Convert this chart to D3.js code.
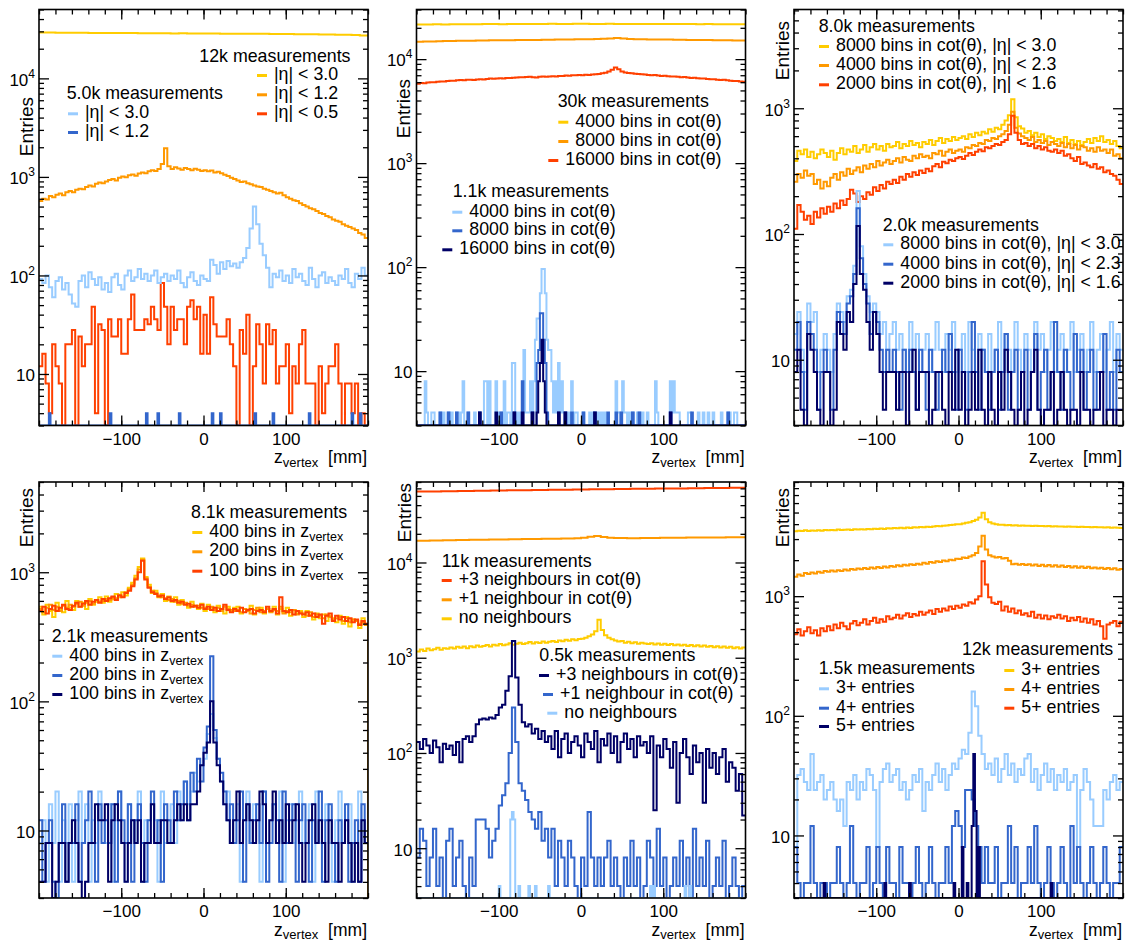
<!DOCTYPE html>
<html>
<head>
<meta charset="utf-8">
<script src="https://cdn.jsdelivr.net/npm/d3@7"></script>
<style>
  body { margin: 0; background: #fff; }
  text { font-family: "Liberation Sans", Arial, Helvetica, sans-serif; fill: #000; }
</style>
</head>
<body>
<script>
// ---- colours (ROOT-like palette) ----
const YEL = "#ffcc00", ORA = "#ff9900", RED = "#ff4000";
const LBL = "#99ccff", BLU = "#3366cc", NAV = "#000066";

// ---- data: entries per bin, z_vertex from -200 to 200 mm ----
// dense arrays: equal bins across [-200, 200]; sparse lists: [bin low edge in mm, entries] with 2 mm bins

// panel 1
const p1Yellow = [29200, 29150, 29100, 29120, 29000, 28980, 28950, 28900, 28920, 28850, 28800, 28820, 28760, 28700, 28720, 28650, 28600, 28640, 28580, 28550,
  28500, 28520, 28450, 28400, 28420, 28350, 28300, 28320, 28250, 28200, 28150, 28100, 28050, 28000, 27950, 27850, 27750, 27650, 27500, 27300];
const p1Orange = [570, 600, 590, 640, 620, 660, 680, 650, 700, 720,
  700, 740, 760, 750, 790, 820, 800, 850, 880, 860,
  900, 930, 950, 920, 980, 1010, 990, 1040, 1060, 1030,
  1080, 1110, 1090, 1140, 1170, 1150, 1200, 1350, 1950, 1280,
  1200, 1250, 1220, 1180, 1230, 1200, 1170, 1210, 1180, 1150,
  1170, 1140, 1160, 1110, 1130, 1090, 1050, 1020, 980, 950,
  920, 890, 900, 860, 840, 820, 800, 790, 760, 740,
  720, 700, 680, 690, 650, 620, 600, 580, 570, 540,
  520, 500, 480, 470, 450, 430, 420, 400, 390, 370,
  360, 350, 330, 320, 310, 300, 290, 270, 260, 240];
const p1Red = [12, 16, 8, 4, 20, 12, 8, 0, 20, 20,
  28, 0, 24, 12, 20, 20, 48, 4, 32, 28,
  0, 36, 24, 24, 36, 16, 16, 36, 64, 28,
  28, 28, 36, 32, 48, 36, 28, 84, 48, 20,
  48, 28, 36, 36, 20, 48, 56, 36, 48, 16,
  40, 16, 60, 32, 24, 24, 24, 36, 20, 12,
  0, 28, 16, 40, 0, 12, 32, 20, 8, 32,
  20, 28, 8, 12, 12, 20, 4, 12, 8, 20,
  28, 8, 8, 8, 0, 12, 4, 8, 12, 12,
  20, 8, 0, 8, 8, 4, 8, 0, 4, 0];
const p1Light = [92, 84, 100, 76, 60, 88, 96, 72, 84, 64,
  52, 48, 88, 100, 76, 108, 92, 80, 96, 72,
  84, 68, 96, 104, 80, 72, 100, 112, 88, 96,
  116, 92, 104, 88, 100, 112, 84, 96, 104, 88,
  100, 92, 112, 84, 76, 96, 108, 88, 80, 100,
  92, 88, 144, 128, 104, 136, 116, 140, 124, 132,
  120, 136, 150, 190, 300, 500, 330, 210, 160, 120,
  76, 104, 96, 112, 88, 100, 84, 116, 96, 104,
  88, 80, 120, 92, 76, 100, 108, 84, 96, 88,
  80, 100, 92, 116, 84, 76, 104, 92, 120, 100];
const p1Blue = [[-188, 4], [-114, 4], [-70, 4], [-56, 4], [-30, 4], [10, 4], [20, 4], [62, 4], [84, 4], [128, 4], [180, 4], [190, 4]];
const p1Names = ["|η| < 3.0", "|η| < 1.2", "|η| < 0.5"];

// panel 2
const p2Yellow = [21500, 21550, 21600, 21580, 21620, 21650, 21700, 21680, 21720, 21750, 21700, 21760, 21800, 21780, 21820, 21800, 21850, 21820, 21800, 21850,
  21830, 21800, 21820, 21850, 21800, 21780, 21820, 21800, 21760, 21780, 21800, 21750, 21720, 21760, 21700, 21720, 21680, 21700, 21650, 21620];
const p2Orange = [14700, 14750, 14800, 14850, 14900, 14950, 15000, 15000, 15050, 15100, 15100, 15150, 15150, 15200, 15200, 15250, 15250, 15300, 15300, 15350,
  15350, 15400, 15400, 15450, 15500, 15500, 15550, 15600, 15700, 15800, 16000, 15800, 15650, 15550, 15500, 15450, 15450, 15400, 15400, 15350,
  15350, 15300, 15300, 15250, 15250, 15200, 15200, 15150, 15100, 15100];
const p2Red = [5800, 5900, 5850, 5950, 6000, 5980, 6050, 6100, 6080, 6150,
  6200, 6180, 6250, 6300, 6280, 6320, 6350, 6300, 6380, 6400,
  6380, 6450, 6500, 6480, 6520, 6550, 6500, 6580, 6600, 6620,
  6650, 6700, 6680, 6720, 6750, 6700, 6650, 6750, 6800, 6780,
  6820, 6850, 6800, 6880, 6900, 6950, 6920, 6980, 7000, 7050,
  7000, 7080, 7050, 7100, 7150, 7200, 7300, 7400, 7600, 7900,
  8300, 8000, 7600, 7450, 7350, 7300, 7250, 7200, 7150, 7100,
  7050, 7000, 7020, 6950, 6900, 6920, 6850, 6800, 6820, 6750,
  6700, 6720, 6650, 6600, 6620, 6550, 6500, 6520, 6450, 6400,
  6420, 6350, 6300, 6320, 6250, 6200, 6150, 6150, 6100, 6050];
const p2Light = [[-190, 8], [-188, 4], [-182, 4], [-180, 4], [-172, 4], [-168, 4], [-162, 4], [-158, 4], [-152, 4], [-150, 4], [-146, 4], [-144, 8],
  [-138, 4], [-130, 4], [-124, 4], [-118, 8], [-116, 8], [-112, 8], [-104, 8], [-100, 4], [-98, 4], [-94, 8], [-90, 4], [-88, 4], [-84, 12], [-82, 12],
  [-78, 4], [-74, 4], [-72, 4], [-70, 16], [-68, 4], [-66, 4], [-64, 4], [-62, 8], [-60, 4], [-58, 8], [-56, 20], [-54, 32], [-52, 32], [-50, 56],
  [-48, 96], [-46, 96], [-44, 56], [-42, 20], [-40, 16], [-38, 16], [-36, 8], [-34, 4], [-32, 8], [-30, 4], [-28, 12], [-26, 4], [-24, 8], [-22, 4],
  [-20, 4], [-16, 4], [-12, 8], [-8, 4], [-6, 4], [2, 4], [10, 4], [14, 4], [20, 4], [24, 4], [28, 4], [42, 8], [44, 4], [46, 4], [50, 8], [52, 4],
  [54, 4], [58, 4], [62, 4], [68, 4], [70, 4], [74, 4], [80, 4], [90, 8], [92, 4], [108, 8], [110, 4], [112, 8], [114, 4], [116, 4], [118, 4],
  [130, 4], [132, 4], [142, 4], [148, 4], [154, 4], [160, 4], [170, 4], [178, 4], [180, 4], [186, 4], [188, 4]];
const p2Blue = [[-172, 4], [-162, 4], [-152, 4], [-138, 4], [-124, 4], [-98, 4], [-82, 4], [-72, 8], [-60, 4], [-54, 12], [-52, 16], [-50, 36],
  [-48, 36], [-46, 20], [-44, 12], [-42, 4], [-28, 4], [-20, 4], [-12, 4], [2, 4], [16, 4], [32, 4], [42, 4], [48, 4], [62, 4], [70, 4], [108, 4],
  [134, 4], [178, 4]];
const p2Navy = [[-124, 4], [-104, 4], [-82, 4], [-72, 4], [-60, 4], [-54, 4], [-52, 8], [-50, 12], [-48, 20], [-46, 8], [-44, 4], [-28, 4], [-20, 4],
  [16, 4], [108, 4]];
const p2Names = ["4000 bins in cot(θ)", "8000 bins in cot(θ)", "16000 bins in cot(θ)"];

// panel 3
const p3Yellow = [380, 460, 430, 470, 410, 450, 400, 430, 470, 440,
  410, 460, 390, 440, 480, 430, 470, 450, 500, 440,
  470, 510, 450, 490, 520, 470, 500, 460, 520, 490,
  500, 540, 480, 520, 500, 550, 510, 530, 490, 540,
  520, 560, 510, 550, 580, 530, 570, 550, 590, 560,
  580, 600, 570, 620, 590, 640, 610, 650, 630, 680,
  650, 700, 680, 740, 800, 880, 1180, 850, 720, 690,
  640, 660, 610, 640, 590, 620, 570, 600, 580, 550,
  570, 540, 590, 530, 560, 520, 550, 510, 540, 570,
  530, 580, 550, 600, 540, 560, 520, 550, 500, 480];
const p3Orange = [260, 300, 280, 320, 290, 300, 250, 270, 230, 260,
  240, 280, 300, 270, 310, 290, 330, 300, 320, 340,
  310, 350, 330, 360, 340, 380, 350, 370, 390, 360,
  380, 400, 370, 410, 390, 380, 420, 400, 430, 410,
  420, 400, 440, 430, 460, 420, 450, 470, 440, 460,
  470, 450, 490, 480, 510, 500, 530, 520, 560, 550,
  580, 570, 600, 620, 660, 740, 940, 700, 630, 600,
  580, 560, 590, 540, 560, 530, 550, 510, 540, 520,
  500, 530, 490, 520, 480, 510, 470, 500, 490, 460,
  480, 450, 490, 460, 470, 440, 470, 420, 430, 400];
const p3Red = [110, 170, 150, 130, 140, 120, 150, 135, 160, 145,
  165, 150, 175, 160, 185, 170, 190, 225, 210, 180,
  200, 190, 215, 205, 235, 220, 245, 230, 260, 250,
  270, 255, 285, 270, 300, 285, 310, 295, 320, 305,
  330, 315, 345, 360, 340, 375, 365, 390, 380, 400,
  410, 395, 420, 440, 425, 450, 470, 455, 490, 480,
  500, 520, 510, 540, 560, 620, 870, 640, 560, 520,
  530, 500, 520, 480, 500, 470, 490, 460, 450, 470,
  440, 460, 420, 430, 400, 380, 410, 360, 370, 350,
  340, 360, 330, 340, 310, 320, 300, 290, 270, 250];
const p3Light = [16, 24, 12, 8, 28, 20, 24, 8, 12, 16,
  12, 8, 16, 28, 24, 20, 32, 36, 56, 220,
  80, 48, 32, 24, 28, 24, 16, 20, 12, 16,
  20, 12, 16, 12, 8, 20, 12, 16, 8, 12,
  16, 8, 12, 20, 12, 8, 16, 12, 20, 8,
  12, 16, 8, 20, 12, 8, 16, 12, 8, 16,
  8, 12, 20, 8, 16, 12, 8, 20, 12, 8,
  16, 12, 8, 20, 12, 16, 8, 12, 20, 8,
  12, 16, 8, 12, 20, 8, 12, 16, 8, 12,
  20, 8, 12, 16, 8, 12, 20, 8, 16, 12];
const p3Blue = [12, 20, 8, 4, 20, 16, 12, 4, 8, 12,
  8, 4, 12, 24, 20, 16, 28, 32, 48, 160,
  64, 40, 28, 16, 24, 20, 12, 8, 12, 8,
  12, 8, 4, 12, 8, 12, 8, 4, 12, 8,
  4, 12, 8, 4, 8, 12, 8, 16, 8, 4,
  12, 8, 4, 8, 20, 8, 4, 12, 8, 4,
  8, 12, 4, 8, 16, 4, 8, 12, 4, 8,
  12, 4, 8, 16, 4, 8, 12, 4, 8, 20,
  8, 4, 12, 8, 4, 16, 8, 12, 4, 8,
  12, 4, 8, 8, 16, 4, 8, 4, 12, 8];
const p3Navy = [8, 12, 4, 0, 16, 12, 8, 4, 0, 8,
  8, 0, 4, 20, 16, 12, 24, 20, 40, 116,
  48, 36, 20, 12, 24, 16, 8, 4, 8, 8,
  8, 4, 8, 8, 0, 8, 12, 4, 8, 8,
  8, 0, 4, 8, 8, 4, 0, 8, 4, 12,
  4, 8, 0, 4, 8, 4, 12, 4, 0, 8,
  4, 0, 8, 4, 12, 8, 4, 0, 4, 8,
  0, 4, 8, 12, 4, 0, 4, 4, 8, 0,
  4, 8, 4, 0, 4, 4, 0, 8, 4, 4,
  0, 4, 4, 8, 0, 4, 4, 0, 4, 4];
const p3Names = ["8000 bins in cot(θ), |η| < 3.0", "4000 bins in cot(θ), |η| < 2.3", "2000 bins in cot(θ), |η| < 1.6"];

// panel 4
const p4Yellow = [540, 470, 560, 500, 450, 580, 520, 490, 600, 530,
  510, 600, 540, 580, 520, 620, 560, 590, 640, 580,
  650, 590, 620, 680, 640, 700, 660, 760, 830, 940,
  1100, 1280, 920, 800, 690, 720, 640, 680, 600, 650,
  590, 640, 560, 610, 570, 530, 590, 550, 520, 570,
  500, 560, 530, 490, 550, 520, 480, 540, 500, 530,
  540, 480, 520, 500, 550, 470, 510, 530, 480, 520,
  500, 540, 470, 520, 490, 530, 460, 510, 480, 500,
  450, 500, 470, 430, 480, 440, 470, 420, 460, 440,
  410, 460, 400, 450, 380, 430, 420, 370, 440, 400];
const p4Orange = [520, 490, 530, 560, 510, 540, 500, 550, 530, 560,
  540, 570, 590, 550, 580, 600, 570, 610, 590, 600,
  620, 610, 640, 630, 670, 650, 700, 740, 800, 900,
  1050, 1250, 900, 770, 720, 690, 660, 640, 630, 610,
  620, 590, 600, 570, 580, 550, 560, 540, 550, 530,
  530, 520, 540, 510, 530, 500, 540, 520, 510, 500,
  510, 490, 520, 500, 480, 510, 530, 490, 500, 520,
  490, 510, 500, 540, 480, 500, 490, 510, 470, 490,
  480, 460, 490, 450, 470, 460, 440, 470, 450, 430,
  440, 450, 420, 440, 410, 430, 420, 400, 410, 390];
const p4Red = [500, 540, 480, 520, 550, 500, 530, 560, 520, 510,
  550, 580, 540, 570, 600, 560, 590, 610, 580, 620,
  600, 630, 650, 610, 660, 640, 690, 720, 780, 880,
  1000, 1230, 880, 760, 700, 680, 650, 660, 620, 640,
  600, 610, 580, 590, 560, 570, 540, 550, 530, 560,
  520, 540, 510, 530, 500, 520, 560, 510, 490, 520,
  500, 530, 490, 510, 520, 480, 500, 510, 490, 540,
  500, 520, 480, 640, 500, 490, 510, 470, 500, 480,
  470, 490, 460, 480, 450, 470, 400, 460, 480, 420,
  460, 430, 450, 420, 440, 410, 430, 390, 420, 400];
const p4Light = [8, 12, 4, 16, 8, 20, 4, 12, 8, 16,
  4, 12, 20, 8, 16, 4, 12, 8, 20, 12,
  8, 16, 4, 12, 20, 8, 4, 16, 12, 8,
  20, 4, 12, 8, 16, 12, 4, 20, 8, 12,
  16, 8, 20, 12, 24, 16, 20, 28, 24, 32,
  36, 56, 80, 52, 36, 24, 16, 20, 8, 12,
  16, 4, 12, 20, 8, 16, 12, 4, 20, 8,
  12, 16, 8, 20, 4, 12, 16, 8, 12, 20,
  8, 12, 16, 4, 20, 8, 12, 16, 8, 4,
  12, 20, 8, 12, 16, 4, 8, 20, 12, 8];
const p4Blue = [12, 4, 8, 12, 4, 0, 8, 16, 4, 8,
  8, 16, 4, 8, 12, 20, 8, 4, 16, 8,
  12, 8, 16, 4, 20, 12, 8, 16, 4, 12,
  16, 8, 4, 12, 20, 8, 12, 4, 16, 12,
  8, 20, 12, 16, 24, 12, 28, 20, 36, 24,
  44, 64, 224, 60, 36, 28, 20, 12, 16, 8,
  12, 20, 4, 16, 8, 12, 16, 8, 20, 4,
  8, 16, 12, 4, 20, 8, 12, 16, 4, 12,
  16, 8, 4, 12, 8, 20, 4, 12, 16, 8,
  4, 12, 8, 16, 4, 8, 12, 4, 16, 8];
const p4Navy = [4, 4, 8, 8, 0, 4, 8, 8, 4, 8,
  12, 8, 4, 0, 4, 8, 8, 16, 12, 12,
  16, 4, 12, 16, 12, 8, 4, 8, 12, 8,
  12, 4, 8, 8, 16, 8, 8, 12, 12, 8,
  8, 12, 16, 12, 16, 12, 16, 16, 20, 32,
  40, 48, 100, 48, 32, 24, 16, 12, 8, 12,
  20, 8, 12, 16, 12, 8, 12, 20, 16, 8,
  12, 20, 8, 12, 8, 16, 8, 12, 16, 8,
  4, 8, 12, 16, 8, 12, 8, 4, 12, 8,
  8, 4, 8, 12, 8, 4, 8, 4, 12, 8];
const p4Names = ["400 bins in z", "200 bins in z", "100 bins in z"];

// panel 5
const p5Red = [55500, 55700, 55800, 56000, 56100, 56300, 56400, 56600, 56700, 56900, 57000, 57200, 57300, 57500, 57600, 57800, 57900, 58100, 58200, 58400,
  58500, 58600, 58800, 58900, 59000, 59200, 59300, 59400, 59600, 59700, 59800, 59900, 60000, 60200, 60300, 60400, 60500, 60600, 60800, 60900];
const p5Orange = [16900, 16950, 17000, 17050, 17100, 17150, 17200, 17250, 17300, 17300, 17350, 17400, 17450, 17450, 17500, 17550, 17600, 17600, 17650, 17700,
  17750, 17800, 17850, 17900, 18000, 18200, 18600, 19000, 18500, 18200, 18100, 18050, 18000, 18000, 18050, 18100, 18100, 18150, 18150, 18200,
  18200, 18250, 18250, 18300, 18300, 18350, 18350, 18400, 18400, 18400];
const p5Yellow = [1160, 1220, 1180, 1250, 1200, 1230, 1270, 1210, 1260, 1240,
  1280, 1250, 1300, 1270, 1310, 1260, 1320, 1290, 1340, 1300,
  1330, 1360, 1310, 1370, 1340, 1390, 1350, 1380, 1420, 1370,
  1400, 1440, 1390, 1420, 1460, 1410, 1450, 1430, 1480, 1440,
  1470, 1500, 1460, 1520, 1490, 1540, 1510, 1560, 1530, 1570,
  1580, 1620, 1680, 1750, 1900, 2500, 1950, 1720, 1620, 1560,
  1520, 1480, 1500, 1440, 1470, 1420, 1450, 1400, 1440, 1410,
  1390, 1420, 1380, 1410, 1370, 1400, 1360, 1390, 1350, 1380,
  1340, 1370, 1330, 1360, 1320, 1350, 1310, 1340, 1300, 1330,
  1290, 1320, 1280, 1310, 1270, 1300, 1260, 1290, 1250, 1280];
const p5Navy = [130, 110, 140, 120, 100, 135, 115, 80, 125, 110,
  120, 95, 130, 80, 140, 150, 130, 150, 200, 225,
  230, 225, 235, 230, 250, 300, 320, 450, 640, 1500,
  620, 320, 210, 190, 200, 160, 180, 140, 170, 130,
  150, 110, 170, 90, 140, 160, 100, 130, 150, 120,
  90, 160, 130, 110, 170, 80, 140, 120, 160, 100,
  150, 80, 130, 160, 110, 140, 90, 150, 120, 130,
  100, 150, 25, 120, 90, 140, 110, 70, 130, 30,
  100, 140, 90, 60, 120, 80, 100, 30, 110, 70,
  100, 60, 90, 110, 50, 80, 70, 40, 60, 22];
const p5Blue = [8, 16, 12, 4, 8, 16, 4, 8, 0, 12,
  16, 4, 8, 12, 4, 0, 8, 4, 20, 20,
  20, 16, 8, 12, 16, 28, 36, 48, 100, 300,
  130, 48, 40, 32, 24, 20, 16, 24, 12, 16,
  8, 16, 4, 12, 8, 4, 12, 8, 4, 0,
  8, 4, 24, 8, 4, 8, 4, 8, 12, 4,
  8, 4, 0, 8, 4, 12, 4, 8, 0, 4,
  12, 8, 4, 16, 4, 8, 0, 4, 8, 4,
  12, 4, 8, 0, 16, 4, 8, 4, 12, 0,
  4, 8, 4, 12, 0, 4, 8, 4, 0, 4];
const p5Light = [[-100, 4], [-86, 20], [-84, 24], [-82, 20], [-76, 4], [-64, 4], [-56, 4], [-40, 4], [84, 4], [88, 4], [126, 4], [132, 4]];
const p5Names = ["+3 neighbours in cot(θ)", "+1 neighbour in cot(θ)", "no neighbours"];

// panel 6
const p6Yellow = [3480, 3520, 3500, 3550, 3510, 3540, 3530, 3560, 3520, 3570,
  3550, 3580, 3560, 3600, 3570, 3590, 3610, 3580, 3620, 3600,
  3630, 3610, 3650, 3620, 3660, 3640, 3680, 3650, 3700, 3670,
  3710, 3690, 3730, 3700, 3750, 3720, 3770, 3750, 3790, 3770,
  3810, 3790, 3830, 3860, 3840, 3880, 3900, 3930, 3960, 3990,
  4000, 4050, 4100, 4150, 4250, 4350, 4550, 4990, 4400, 4150,
  4050, 4000, 3960, 3950, 3920, 3930, 3900, 3910, 3880, 3890,
  3870, 3880, 3860, 3870, 3850, 3860, 3840, 3850, 3830, 3840,
  3820, 3830, 3810, 3820, 3800, 3810, 3790, 3800, 3780, 3790,
  3770, 3780, 3760, 3770, 3750, 3760, 3740, 3750, 3730, 3720];
const p6Orange = [1450, 1520, 1480, 1560, 1530, 1580, 1550, 1600, 1570, 1620,
  1600, 1640, 1610, 1650, 1620, 1670, 1640, 1690, 1660, 1700,
  1680, 1720, 1690, 1740, 1700, 1750, 1720, 1770, 1740, 1790,
  1760, 1810, 1780, 1830, 1800, 1850, 1820, 1870, 1840, 1900,
  1870, 1930, 1900, 1960, 1930, 1990, 1960, 2020, 2000, 2050,
  2040, 2100, 2080, 2150, 2200, 2300, 2600, 3200, 2450, 2200,
  2150, 2100, 2120, 2060, 2080, 1980, 1850, 1870, 1830, 1860,
  1820, 1850, 1800, 1840, 1790, 1830, 1780, 1820, 1770, 1810,
  1760, 1800, 1750, 1790, 1740, 1780, 1730, 1770, 1720, 1760,
  1710, 1740, 1700, 1730, 1690, 1720, 1680, 1710, 1660, 1690];
const p6Red = [480, 530, 470, 510, 550, 490, 520, 470, 540, 510,
  560, 520, 580, 540, 600, 560, 530, 590, 620, 570,
  600, 640, 580, 620, 660, 600, 640, 610, 680, 640,
  660, 700, 650, 690, 720, 670, 710, 690, 740, 700,
  730, 760, 710, 780, 740, 790, 760, 820, 780, 830,
  800, 850, 830, 890, 870, 940, 1000, 1960, 1250, 980,
  880, 860, 900, 760, 820, 740, 790, 720, 760, 700,
  720, 680, 740, 660, 700, 650, 690, 640, 680, 660,
  700, 650, 680, 620, 660, 630, 670, 610, 650, 600,
  640, 580, 620, 560, 440, 580, 600, 620, 560, 610];
const p6Light = [8, 32, 36, 28, 24, 48, 24, 28, 32, 20,
  24, 28, 20, 16, 20, 12, 28, 24, 32, 20,
  28, 24, 36, 32, 24, 8, 28, 36, 40, 28,
  32, 36, 24, 28, 20, 24, 32, 28, 36, 16,
  28, 24, 32, 40, 28, 36, 24, 32, 40, 36,
  44, 52, 48, 72, 160, 120, 68, 48, 36, 40,
  32, 44, 28, 36, 48, 32, 40, 28, 36, 32,
  44, 48, 28, 36, 24, 32, 40, 28, 36, 24,
  32, 28, 36, 24, 28, 32, 8, 24, 36, 28,
  20, 12, 12, 12, 24, 20, 28, 32, 24, 28];
const p6Blue = [8, 4, 0, 4, 4, 12, 4, 0, 4, 4,
  0, 4, 4, 8, 4, 0, 4, 12, 4, 0,
  4, 4, 8, 0, 4, 8, 4, 0, 8, 4,
  4, 0, 8, 4, 4, 0, 4, 8, 4, 0,
  4, 8, 4, 0, 4, 4, 8, 4, 12, 16,
  12, 8, 24, 24, 20, 12, 8, 4, 8, 4,
  4, 8, 0, 4, 4, 12, 4, 8, 0, 4,
  4, 8, 4, 12, 4, 0, 4, 8, 4, 0,
  4, 8, 4, 0, 12, 4, 8, 4, 0, 4,
  8, 4, 0, 4, 8, 4, 0, 4, 4, 8];
const p6Navy = [[-164, 4], [-90, 4], [-60, 4], [-6, 4], [4, 8], [10, 4], [16, 12], [18, 48], [20, 16], [24, 8], [112, 4]];
const p6Names = ["3+ entries", "4+ entries", "5+ entries"];

// ---- helpers ----
function fromSparse(pairs) {
  const a = new Array(200).fill(0);
  pairs.forEach(([z, v]) => { a[Math.round((z + 200) / 2)] = v; });
  return a;
}
function minorTicks(max) {
  const t = [];
  for (let e = 0; Math.pow(10, e) <= max; e++)
    for (let k = 2; k <= 9; k++) {
      const v = k * Math.pow(10, e);
      if (v >= 3 && v <= max) t.push(v);
    }
  return t;
}

// ---- layout of the six pads ----
const W = 329, H = 416;
const panels = [
  { x0: 39, y0: 9.5, ymax: 50000, entries: [33.3, 97],
    series: [{ v: p1Yellow, c: YEL }, { v: p1Orange, c: ORA }, { v: p1Red, c: RED }, { v: p1Light, c: LBL }, { v: fromSparse(p1Blue), c: BLU }],
    legend: [
      { t: "12k measurements", x: 199.3, y: 61.7 },
      { t: p1Names[0], x: 274, y: 80, c: YEL }, { t: p1Names[1], x: 274, y: 99.3, c: ORA }, { t: p1Names[2], x: 274, y: 118.3, c: RED },
      { t: "5.0k measurements", x: 66.7, y: 98.7 },
      { t: p1Names[0], x: 85, y: 118.3, c: LBL }, { t: p1Names[1], x: 85, y: 137, c: BLU }] },
  { x0: 416.5, y0: 9.5, ymax: 30000, entries: [410.3, 79],
    series: [{ v: p2Yellow, c: YEL }, { v: p2Orange, c: ORA }, { v: p2Red, c: RED },
      { v: fromSparse(p2Light), c: LBL }, { v: fromSparse(p2Blue), c: BLU }, { v: fromSparse(p2Navy), c: NAV }],
    legend: [
      { t: "30k measurements", x: 557.7, y: 107.3 },
      { t: p2Names[0], x: 575.3, y: 126.7, c: YEL }, { t: p2Names[1], x: 575.3, y: 146, c: ORA }, { t: p2Names[2], x: 565.3, y: 165, c: RED },
      { t: "1.1k measurements", x: 452.7, y: 197.3 },
      { t: p2Names[0], x: 469.3, y: 216.7, c: LBL }, { t: p2Names[1], x: 469.3, y: 235.3, c: BLU }, { t: p2Names[2], x: 459.3, y: 254.3, c: NAV }] },
  { x0: 794, y0: 9.5, ymax: 6100, entries: [788.7, 21],
    series: [{ v: p3Yellow, c: YEL }, { v: p3Orange, c: ORA }, { v: p3Red, c: RED }, { v: p3Light, c: LBL }, { v: p3Blue, c: BLU }, { v: p3Navy, c: NAV }],
    legend: [
      { t: "8.0k measurements", x: 818.7, y: 31.7 },
      { t: p3Names[0], x: 836, y: 51, c: YEL }, { t: p3Names[1], x: 836, y: 70, c: ORA }, { t: p3Names[2], x: 836, y: 89.3, c: RED },
      { t: "2.0k measurements", x: 882.7, y: 230.7 },
      { t: p3Names[0], x: 900.3, y: 249.3, c: LBL }, { t: p3Names[1], x: 900.3, y: 268.7, c: BLU }, { t: p3Names[2], x: 900.3, y: 287.7, c: NAV }] },
  { x0: 39, y0: 482, ymax: 5000, entries: [33.3, 488],
    series: [{ v: p4Yellow, c: YEL }, { v: p4Orange, c: ORA, close: true }, { v: p4Red, c: RED }, { v: p4Light, c: LBL }, { v: p4Blue, c: BLU }, { v: p4Navy, c: NAV }],
    legend: [
      { t: "8.1k measurements", x: 191, y: 518.3 },
      { t: p4Names[0], sub: "vertex", x: 209.3, y: 537, c: YEL }, { t: p4Names[1], sub: "vertex", x: 209.3, y: 556.3, c: ORA },
      { t: p4Names[2], sub: "vertex", x: 209.3, y: 575.7, c: RED },
      { t: "2.1k measurements", x: 51.7, y: 641.7 },
      { t: p4Names[0], sub: "vertex", x: 69.3, y: 660.7, c: LBL }, { t: p4Names[1], sub: "vertex", x: 69.3, y: 680, c: BLU },
      { t: p4Names[2], sub: "vertex", x: 69.3, y: 699, c: NAV }] },
  { x0: 416.5, y0: 482, ymax: 70000, entries: [411, 483],
    series: [{ v: p5Red, c: RED }, { v: p5Orange, c: ORA }, { v: p5Yellow, c: YEL }, { v: p5Navy, c: NAV }, { v: p5Blue, c: BLU }, { v: fromSparse(p5Light), c: LBL }],
    legend: [
      { t: "11k measurements", x: 441.7, y: 566.7 },
      { t: p5Names[0], x: 458.7, y: 585, c: RED }, { t: p5Names[1], x: 458.7, y: 604.3, c: ORA }, { t: p5Names[2], x: 458.7, y: 623.3, c: YEL },
      { t: "0.5k measurements", x: 539.3, y: 660.7 },
      { t: p5Names[0], x: 556, y: 680, c: NAV }, { t: p5Names[1], x: 560, y: 699, c: BLU }, { t: p5Names[2], x: 564.3, y: 717.7, c: LBL }] },
  { x0: 794, y0: 482, ymax: 9000, entries: [789.3, 488],
    series: [{ v: p6Yellow, c: YEL }, { v: p6Orange, c: ORA }, { v: p6Red, c: RED }, { v: p6Light, c: LBL }, { v: p6Blue, c: BLU }, { v: fromSparse(p6Navy), c: NAV }],
    legend: [
      { t: "12k measurements", x: 962, y: 655 },
      { t: p6Names[0], x: 1021.3, y: 675, c: YEL }, { t: p6Names[1], x: 1021.3, y: 694, c: ORA }, { t: p6Names[2], x: 1021.3, y: 712.7, c: RED },
      { t: "1.5k measurements", x: 818.7, y: 674 },
      { t: p6Names[0], x: 836, y: 693.3, c: LBL }, { t: p6Names[1], x: 836, y: 712.7, c: BLU }, { t: p6Names[2], x: 836, y: 731, c: NAV }] }
];

const svg = d3.select("body").append("svg")
  .attr("width", 1126)
  .attr("height", 941);

const FONT = '"Liberation Sans", Arial, Helvetica, sans-serif';
const x = d3.scaleLinear().domain([-200, 200]).range([0, W]);

panels.forEach((p, pi) => {
  const y = d3.scaleLog().domain([3, p.ymax]).range([H, 0]);
  const g = svg.append("g").attr("transform", `translate(${p.x0},${p.y0})`);

  g.append("clipPath").attr("id", "clip" + pi)
    .append("rect").attr("width", W).attr("height", H);

  // histograms as step lines
  const line = d3.line()
    .x(d => x(d[0]))
    .y(d => y(Math.max(d[1], 3)))
    .curve(d3.curveStepAfter);

  p.series.forEach(s => {
    const bw = 400 / s.v.length;
    const pts = s.v.map((v, i) => [-200 + i * bw, v]);
    pts.push([200, s.v[s.v.length - 1]]);
    if (s.close) pts.push([200, 0]);
    g.append("path")
      .attr("clip-path", `url(#clip${pi})`)
      .attr("d", line(pts))
      .attr("fill", "none")
      .attr("stroke", s.c)
      .attr("stroke-width", 2)
      .attr("stroke-linejoin", "miter");
  });

  // ticks on all four sides, pointing inward
  const minorX = d3.range(-200, 201, 20);
  const majorX = [-100, 0, 100];
  const majorY = [10, 100, 1000, 10000].filter(v => v <= p.ymax);
  const minY = minorTicks(p.ymax);

  const axes = [
    { a: d3.axisBottom(x).tickValues(minorX).tickSize(-5).tickFormat(""), t: `translate(0,${H})` },
    { a: d3.axisBottom(x).tickValues(majorX).tickSize(-10).tickPadding(7), t: `translate(0,${H})`, lab: true },
    { a: d3.axisTop(x).tickValues(minorX).tickSize(-5).tickFormat(""), t: "" },
    { a: d3.axisTop(x).tickValues(majorX).tickSize(-10).tickFormat(""), t: "" },
    { a: d3.axisLeft(y).tickValues(minY).tickSize(-5).tickFormat(""), t: "" },
    { a: d3.axisLeft(y).tickValues(majorY).tickSize(-10).tickPadding(4).tickFormat(""), t: "", ylab: true },
    { a: d3.axisRight(y).tickValues(minY).tickSize(-5).tickFormat(""), t: `translate(${W},0)` },
    { a: d3.axisRight(y).tickValues(majorY).tickSize(-10).tickFormat(""), t: `translate(${W},0)` }
  ];
  axes.forEach(ax => {
    const ag = g.append("g").attr("transform", ax.t).call(ax.a)
      .attr("font-family", FONT).attr("font-size", 17);
    ag.select(".domain").remove();
    ag.selectAll(".tick line").attr("stroke", "#000").attr("stroke-width", 1.3);
    ag.selectAll(".tick text").attr("fill", "#000");
    if (ax.ylab) {
      ag.selectAll(".tick text").attr("dy", "0.4em").each(function(d) {
        const t = d3.select(this);
        const e = Math.round(Math.log10(d));
        t.append("tspan").text("10");
        if (e > 1) t.append("tspan").attr("dy", -8).attr("font-size", 12).text(e);
      });
    }
  });

  // frame
  g.append("rect")
    .attr("width", W).attr("height", H)
    .attr("fill", "none").attr("stroke", "#000").attr("stroke-width", 1.6);

  // axis titles
  svg.append("text")
    .attr("transform", `translate(${p.entries[0]},${p.entries[1]}) rotate(-90)`)
    .attr("text-anchor", "end")
    .style("font-size", "19px")
    .text("Entries");

  const xt = svg.append("text")
    .attr("x", p.x0 + W - 1)
    .attr("y", p.y0 + H + 37.5)
    .attr("text-anchor", "end")
    .style("font-size", "17.5px");
  xt.append("tspan").text("z");
  xt.append("tspan").attr("dy", 3.5).style("font-size", "13px").text("vertex");
  xt.append("tspan").attr("dy", -3.5).attr("dx", 5).text(" [mm]");

  // legends
  p.legend.forEach(it => {
    const t = svg.append("text")
      .attr("x", it.x).attr("y", it.y)
      .style("font-size", "17.8px")
      .text(it.t);
    if (it.sub) t.append("tspan").attr("dy", 4).style("font-size", "12.5px").text(it.sub);
    if (it.c) {
      svg.append("line")
        .attr("x1", it.x - 17).attr("x2", it.x - 7)
        .attr("y1", it.y - 4.5).attr("y2", it.y - 4.5)
        .attr("stroke", it.c).attr("stroke-width", 3);
    }
  });
});
</script>
</body>
</html>
